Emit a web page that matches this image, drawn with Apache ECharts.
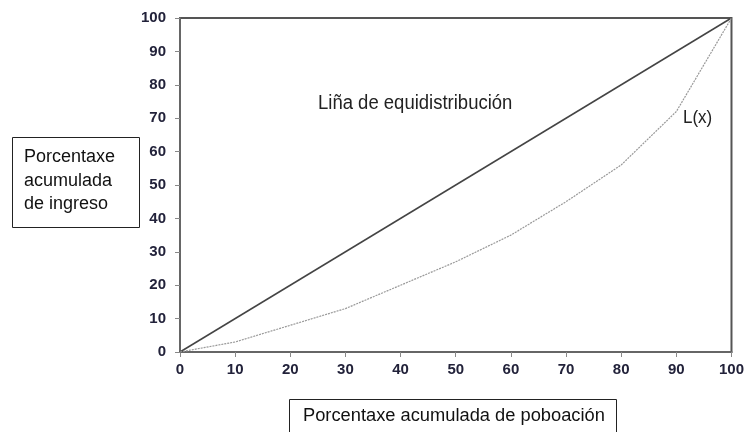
<!DOCTYPE html>
<html><head><meta charset="utf-8">
<script src="https://cdn.jsdelivr.net/npm/echarts@6/dist/echarts.min.js"></script>
<style>html,body{margin:0;padding:0;background:#fff}#c{width:747px;height:432px}</style>
</head><body><div id="c"></div>
<script>
const population = [0, 10, 20, 30, 40, 50, 60, 70, 80, 90, 100];
const lorenz = [0, 3, 8, 13, 20, 27, 35, 45, 56, 72, 100];
const equality = [0, 100];
const equalityX = [0, 100];
const lineLabel = 'Liña de equidistribución';
const curveLabel = 'L(x)';
const yTitle = ['Porcentaxe', 'acumulada', 'de ingreso'];
const xTitle = 'Porcentaxe acumulada de poboación';

const FONT = 'Liberation Sans, Arial, sans-serif';
const chart = echarts.init(document.getElementById('c'));
const axisCommon = {
  type: 'value', min: 0, max: 100, interval: 10,
  axisLine: {show: true, lineStyle: {color: '#666', width: 2}},
  axisTick: {show: true, length: 5, lineStyle: {color: '#888', width: 1}},
  splitLine: {show: false}
};
const labelStyle = {color: '#22223a', fontFamily: FONT, fontSize: 15, fontWeight: 'bold'};
chart.setOption({
  animation: false,
  backgroundColor: '#fff',
  grid: {left: 180, right: 13, top: 18, bottom: 80, show: true, borderColor: '#555', borderWidth: 2},
  xAxis: Object.assign({}, axisCommon, {axisLabel: Object.assign({margin: 10}, labelStyle)}),
  yAxis: Object.assign({}, axisCommon, {axisLabel: Object.assign({margin: 14}, labelStyle)}),
  series: [
    {type: 'line', data: equalityX.map((x, i) => [x, equality[i]]), symbol: 'none',
     lineStyle: {color: '#444', width: 1.5}},
    {type: 'line', data: population.map((x, i) => [x, lorenz[i]]), symbol: 'none',
     lineStyle: {color: '#999', width: 1.2, type: [2, 1]}}
  ],
  graphic: [
    {type: 'text', x: 318, y: 103, scaleY: 1.12, style: {text: lineLabel, fontSize: 18.5, fontFamily: FONT, fill: '#222', verticalAlign: 'middle'}},
    {type: 'text', x: 683, y: 118, scaleY: 1.12, style: {text: curveLabel, fontSize: 17, fontFamily: FONT, fill: '#222', verticalAlign: 'middle'}},
    {type: 'rect', shape: {x: 12.5, y: 137.5, width: 127, height: 90}, style: {fill: '#fff', stroke: '#222', lineWidth: 1}},
    {type: 'text', x: 24, y: 157, style: {text: yTitle[0], fontSize: 18, fontFamily: FONT, fill: '#111', verticalAlign: 'middle'}},
    {type: 'text', x: 24, y: 181, style: {text: yTitle[1], fontSize: 18, fontFamily: FONT, fill: '#111', verticalAlign: 'middle'}},
    {type: 'text', x: 24, y: 204, style: {text: yTitle[2], fontSize: 18, fontFamily: FONT, fill: '#111', verticalAlign: 'middle'}},
    {type: 'rect', shape: {x: 289.5, y: 399.5, width: 327, height: 40}, style: {fill: '#fff', stroke: '#222', lineWidth: 1}},
    {type: 'text', x: 303, y: 416, style: {text: xTitle, fontSize: 18.3, fontFamily: FONT, fill: '#111', verticalAlign: 'middle'}}
  ]
});
</script></body></html>
